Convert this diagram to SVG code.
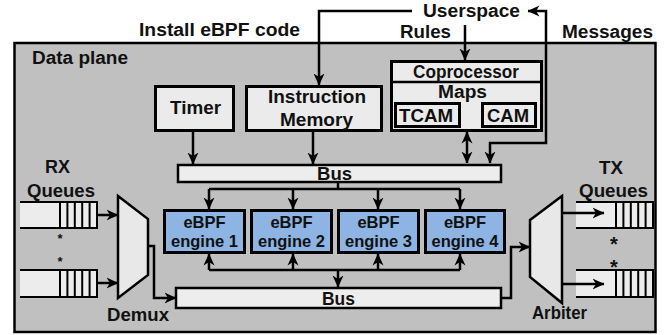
<svg xmlns="http://www.w3.org/2000/svg" width="665" height="335" viewBox="0 0 665 335">
  <style>
    text { font-family: "Liberation Sans", Arial, sans-serif; font-weight: bold; fill: #111; text-anchor: middle; }
    .lbl { font-size: 18px; }
    .eng { font-size: 16.5px; }
    .box { fill: #ebebeb; stroke: #000; stroke-width: 3; }
    .bus { fill: #ededed; stroke: #000; stroke-width: 2.5; }
    .engine { fill: #8db4e2; stroke: #000; stroke-width: 3; }
    .mux { fill: #e8e8e8; stroke: #000; stroke-width: 2.5; stroke-linejoin: miter; }
    .qfill { fill: #ececec; }
    .qline { fill: none; stroke: #000; stroke-width: 2; }
    .wire { fill: none; stroke: #000; stroke-width: 2.5; }
    .arr { marker-end: url(#head); }
    .both { marker-start: url(#head); marker-end: url(#head); }
  </style>
  <defs>
    <marker id="head" viewBox="0 0 12 12" markerWidth="12" markerHeight="12" refX="11.5" refY="6" orient="auto-start-reverse" markerUnits="userSpaceOnUse">
      <path d="M0,0.5 L12,6 L0,11.5 L3.5,6 z" fill="#000"/>
    </marker>
  </defs>

  <!-- data plane enclosure -->
  <rect x="14.5" y="43" width="641" height="289" fill="#c0c0c0" stroke="#000" stroke-width="2.5"/>
  <text class="lbl" x="80" y="64" textLength="96" lengthAdjust="spacingAndGlyphs">Data plane</text>

  <!-- outside labels -->
  <text class="lbl" x="219.5" y="36" textLength="161" lengthAdjust="spacingAndGlyphs">Install eBPF code</text>
  <text class="lbl" x="471.5" y="17" textLength="97" lengthAdjust="spacingAndGlyphs">Userspace</text>
  <text class="lbl" x="425.5" y="38" textLength="51" lengthAdjust="spacingAndGlyphs">Rules</text>
  <text class="lbl" x="607.5" y="38" textLength="91" lengthAdjust="spacingAndGlyphs">Messages</text>

  <g id="timer">
    <rect class="box" x="155.5" y="86.5" width="78" height="44"/>
    <text class="lbl" x="195.5" y="114" textLength="51" lengthAdjust="spacingAndGlyphs">Timer</text>
  </g>

  <g id="instruction-memory">
    <rect class="box" x="246.5" y="86.5" width="135" height="44"/>
    <text class="lbl" x="317" y="103" textLength="98" lengthAdjust="spacingAndGlyphs">Instruction</text>
    <text class="lbl" x="316.5" y="126" textLength="73" lengthAdjust="spacingAndGlyphs">Memory</text>
  </g>

  <g id="coprocessor">
    <rect class="box" x="391.5" y="61.5" width="150" height="69"/>
    <line x1="391.5" y1="82" x2="541.5" y2="82" stroke="#000" stroke-width="2.5"/>
    <text class="lbl" x="466" y="78" textLength="106" lengthAdjust="spacingAndGlyphs">Coprocessor</text>
    <text class="lbl" x="462.5" y="98" textLength="49" lengthAdjust="spacingAndGlyphs">Maps</text>
    <g id="tcam">
      <rect class="box" x="395.5" y="103.5" width="64" height="23"/>
      <text class="lbl" x="426" y="122" textLength="54" lengthAdjust="spacingAndGlyphs">TCAM</text>
    </g>
    <g id="cam">
      <rect class="box" x="482.5" y="103.5" width="53" height="23"/>
      <text class="lbl" x="508" y="122" textLength="42" lengthAdjust="spacingAndGlyphs">CAM</text>
    </g>
  </g>

  <g id="bus-top">
    <rect class="bus" x="178" y="165" width="323" height="17"/>
    <text class="lbl" x="334.5" y="180" textLength="35" lengthAdjust="spacingAndGlyphs">Bus</text>
  </g>

  <g id="engine-1">
    <rect class="engine" x="164.5" y="210.5" width="80" height="42"/>
    <text class="eng" x="204.5" y="228">eBPF</text>
    <text class="eng" x="204.5" y="247">engine 1</text>
  </g>
  <g id="engine-2">
    <rect class="engine" x="251.5" y="210.5" width="80" height="42"/>
    <text class="eng" x="291.5" y="228">eBPF</text>
    <text class="eng" x="291.5" y="247">engine 2</text>
  </g>
  <g id="engine-3">
    <rect class="engine" x="338.5" y="210.5" width="80" height="42"/>
    <text class="eng" x="378.5" y="228">eBPF</text>
    <text class="eng" x="378.5" y="247">engine 3</text>
  </g>
  <g id="engine-4">
    <rect class="engine" x="425.5" y="210.5" width="79" height="42"/>
    <text class="eng" x="465" y="228">eBPF</text>
    <text class="eng" x="465" y="247">engine 4</text>
  </g>

  <g id="bus-bottom">
    <rect class="bus" x="176" y="288" width="325" height="20"/>
    <text class="lbl" x="338.5" y="305" textLength="33" lengthAdjust="spacingAndGlyphs">Bus</text>
  </g>

  <g id="rx-queues">
    <text class="lbl" x="57.5" y="173" textLength="25" lengthAdjust="spacingAndGlyphs">RX</text>
    <text class="lbl" x="61" y="197" textLength="68" lengthAdjust="spacingAndGlyphs">Queues</text>
    <rect class="qfill" x="20" y="202" width="77" height="26"/>
    <path class="qline" d="M20,202 H97 V228 H20 M60,202 V228 M67.4,202 V228 M74.8,202 V228 M82.2,202 V228 M89.6,202 V228"/>
    <rect class="qfill" x="20" y="270" width="77" height="27"/>
    <path class="qline" d="M20,270 H97 V297 H20 M60,270 V297 M67.4,270 V297 M74.8,270 V297 M82.2,270 V297 M89.6,270 V297"/>
    <text x="60" y="243" font-size="13">*</text>
    <text x="60" y="266" font-size="13">*</text>
  </g>

  <g id="demux">
    <polygon class="mux" points="118,196 148,219 148,275 118,298"/>
    <text class="lbl" x="138" y="321" textLength="62" lengthAdjust="spacingAndGlyphs">Demux</text>
  </g>

  <g id="arbiter">
    <polygon class="mux" points="530,220 562,196 562,303 530,277"/>
    <text class="lbl" x="559.5" y="319" textLength="55" lengthAdjust="spacingAndGlyphs">Arbiter</text>
  </g>

  <g id="tx-queues">
    <text class="lbl" x="611" y="174" textLength="24" lengthAdjust="spacingAndGlyphs">TX</text>
    <text class="lbl" x="613.5" y="197" textLength="69" lengthAdjust="spacingAndGlyphs">Queues</text>
    <rect class="qfill" x="576" y="202" width="77" height="26"/>
    <path class="qline" d="M576,202 H653 V228 H576 M616,202 V228 M623.4,202 V228 M630.8,202 V228 M638.2,202 V228 M645.6,202 V228"/>
    <rect class="qfill" x="576" y="270" width="77" height="27"/>
    <path class="qline" d="M576,270 H653 V297 H576 M616,270 V297 M623.4,270 V297 M630.8,270 V297 M638.2,270 V297 M645.6,270 V297"/>
    <text x="614" y="251" font-size="20">*</text>
    <text x="614" y="274" font-size="20">*</text>
  </g>

  <g id="connectors">
    <!-- control plane feeds -->
    <path class="wire arr" d="M412,11 H319 V85"/>
    <path class="wire arr" d="M465,25 V60"/>
    <path class="wire both" d="M528,11 H546 V143 H490 V163"/>
    <path class="wire both" d="M467,132 V163"/>
    <!-- into the top bus -->
    <path class="wire arr" d="M193,132 V164"/>
    <path class="wire arr" d="M313,132 V164"/>
    <!-- top bus fan-out to engines -->
    <path class="wire" d="M338,183 V189 M209,189 H460"/>
    <path class="wire arr" d="M209,189 V209"/>
    <path class="wire arr" d="M293,189 V209"/>
    <path class="wire arr" d="M378,189 V209"/>
    <path class="wire arr" d="M460,189 V209"/>
    <!-- engines to bottom bus -->
    <path class="wire" d="M209,270 H460"/>
    <path class="wire arr" d="M209,270 V254"/>
    <path class="wire arr" d="M293,270 V254"/>
    <path class="wire arr" d="M378,270 V254"/>
    <path class="wire arr" d="M460,270 V254"/>
    <path class="wire arr" d="M338,270 V287"/>
    <!-- packet path -->
    <path class="wire arr" d="M97,215 H118"/>
    <path class="wire arr" d="M97,283 H118"/>
    <path class="wire arr" d="M148,246 H154 V298 H176"/>
    <path class="wire arr" d="M501,298 H511 V247 H530"/>
    <path class="wire arr" d="M562,213 H604"/>
    <path class="wire arr" d="M562,284 H604"/>
  </g>
</svg>
